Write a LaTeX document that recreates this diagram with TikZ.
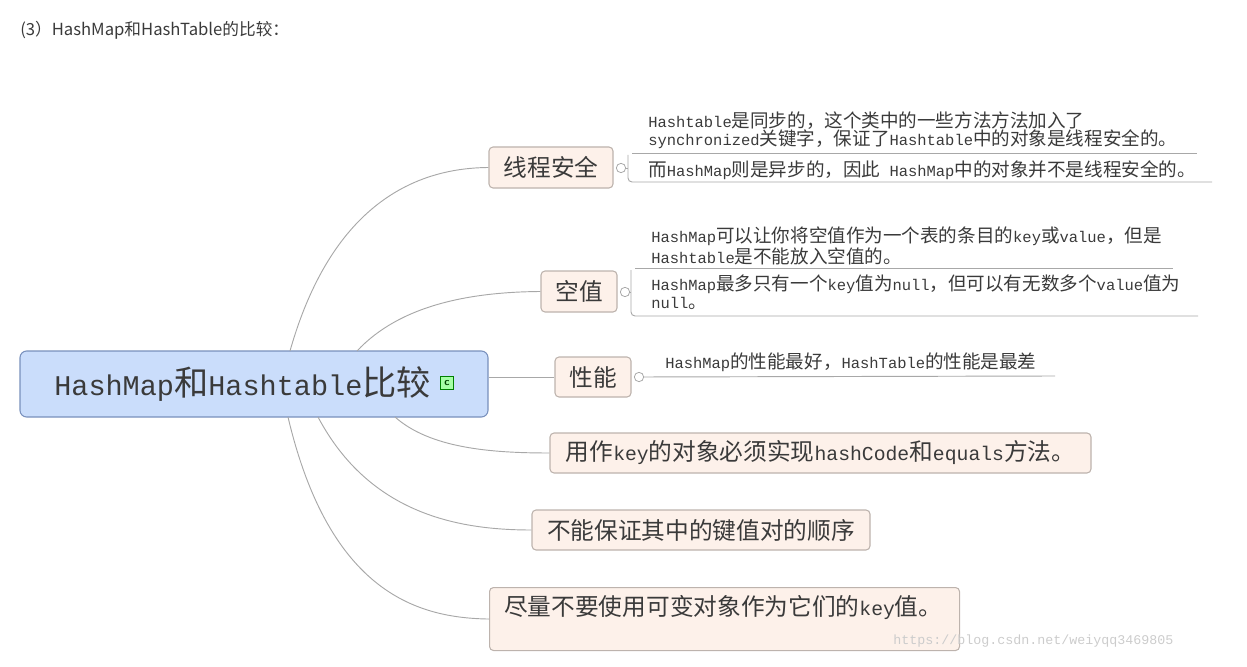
\documentclass[tikz,border=0pt]{standalone}
\usepackage{fontspec}
\setmainfont{Liberation Mono}
\newfontfamily\zhf{Noto Sans CJK SC}[Scale=1.2]
\newfontfamily\titlef{Noto Sans CJK SC}
\newcommand{\zz}[1]{{\zhf #1}}
\definecolor{rootfill}{HTML}{CADDFB}
\definecolor{rootdraw}{HTML}{7890BC}
\definecolor{brfill}{HTML}{FDF1EA}
\definecolor{brdraw}{HTML}{BDB3AD}
\definecolor{lnk}{HTML}{A8A8A8}
\definecolor{txt}{HTML}{3A3A3A}
\begin{document}
\begin{tikzpicture}[x=0.75pt,y=-0.75pt,
  br/.style={draw=brdraw,fill=brfill,rounded corners=3pt,line width=0.8pt,inner sep=0pt,text=txt,font=\fontsize{14.8pt}{18pt}\selectfont},
  leaf/.style={inner sep=0pt,anchor=north west,align=left,text=txt,font=\fontsize{11.6pt}{13.5pt}\selectfont},
  lk/.style={draw=lnk,line width=0.7pt},
  knob/.style={circle,draw=lnk,fill=white,minimum size=7pt,inner sep=0pt,line width=0.6pt}]
\useasboundingbox (0,0) rectangle (1247,667);
\node[anchor=west,inner sep=0pt,font=\titlef\fontsize{12.5pt}{14pt}\selectfont,text=txt] (title) at (20,30) {(3）HashMap和HashTable的比较：};
% root
\node[draw=rootdraw,fill=rootfill,rounded corners=5pt,line width=0.8pt,minimum width=468*0.75pt,minimum height=66*0.75pt,inner sep=0pt] (root) at (254,384) {};
\node[anchor=west,inner sep=0pt,text=txt,font=\fontsize{21.4pt}{24pt}\selectfont] (rt) at (54,384) {HashMap\zz{和}Hashtable\zz{比较}};
\node[draw=green!50!black,fill=green!35,minimum size=10pt,inner sep=0pt,font=\sffamily\bfseries\fontsize{8pt}{8pt}\selectfont,text=green!25!black] (ic) at (447,383) {c};
% branches
\node[br,minimum width=124*0.75pt,minimum height=41*0.75pt] (b1) at (551,167.5) {\zz{线程安全}};
\node[br,minimum width=76*0.75pt,minimum height=41*0.75pt] (b2) at (579,291.5) {\zz{空值}};
\node[br,minimum width=76*0.75pt,minimum height=40*0.75pt] (b3) at (593,377) {\zz{性能}};
\node[br,minimum width=541*0.75pt,minimum height=40*0.75pt] (b4) at (820.5,453) {\zz{用作}key\zz{的对象必须实现}hashCode\zz{和}equals\zz{方法。}};
\node[br,minimum width=338*0.75pt,minimum height=40*0.75pt] (b5) at (701,530) {\zz{不能保证其中的键值对的顺序}};
\node[br,minimum width=470*0.75pt,minimum height=63*0.75pt,anchor=north west] (b6) at (489,587) {};
\node[anchor=west,inner sep=0pt,text=txt,font=\fontsize{14.8pt}{18pt}\selectfont] (b6t) at (504,607) {\zz{尽量不要使用可变对象作为它们的}key\zz{值。}};
% connectors from root
\coordinate (r1) at (290,351);
\coordinate (r2) at (357,351);
\coordinate (r4) at (395,417);
\coordinate (r5) at (318,417);
\coordinate (r6) at (288,417);
\draw[lk] (r1) .. controls (330,210) and (410,168) .. (b1.west);
\draw[lk] (r2) .. controls (400,305) and (470,292) .. (b2.west);
\draw[lk] (root.east |- b3.west) -- (b3.west);
\draw[lk] (r4) .. controls (430,448) and (490,453) .. (b4.west);
\draw[lk] (r5) .. controls (370,515) and (460,530) .. (b5.west);
\draw[lk] (r6) .. controls (330,595) and (420,618) .. (b6.west);
% knobs and leaves
\node[knob] (k1) at (621,168) {};
\node[knob] (k2) at (625,292) {};
\node[knob] (k3) at (639,377) {};
\coordinate (l1a) at (632,153); \coordinate (l1b) at (1197,153);
\coordinate (l1c) at (628,155); \coordinate (l1d) at (1212,182);
\draw[lk] (l1a) -- (l1b);
\draw[lk,rounded corners=3pt] (l1c) -- (l1c |- l1d) -- (l1d);
\draw[lk] (k1) -- (l1c |- k1);
\coordinate (l2a) at (635,268); \coordinate (l2b) at (1173,268);
\coordinate (l2c) at (631,270); \coordinate (l2d) at (1198,316);
\draw[lk] (l2a) -- (l2b);
\draw[lk,rounded corners=3pt] (l2c) -- (l2c |- l2d) -- (l2d);
\draw[lk] (k2) -- (l2c |- k2);
\coordinate (l3b) at (1055,376);
\draw[lk] (k3) -- (l3b);
\node[leaf] (t1) at (648,112) {Hashtable\zz{是同步的，这个类中的一些方法方法加入了}\\synchronized\zz{关键字，保证了}Hashtable\zz{中的对象是线程安全的。}};
\node[leaf] (t2) at (648,160) {\zz{而}HashMap\zz{则是异步的，因此} HashMap\zz{中的对象并不是线程安全的。}};
\node[leaf] (t3) at (651,227) {HashMap\zz{可以让你将空值作为一个表的条目的}key\zz{或}value\zz{，但是}\\Hashtable\zz{是不能放入空值的。}};
\node[leaf] (t4) at (651,275) {HashMap\zz{最多只有一个}key\zz{值为}null\zz{，但可以有无数多个}value\zz{值为}\\null\zz{。}};
\node[leaf] (t5) at (665,353) {HashMap\zz{的性能最好，}HashTable\zz{的性能是最差}};
\node[anchor=west,inner sep=0pt,text=black!20,font=\fontsize{10pt}{12pt}\selectfont] (wm) at (893,641) {https://blog.csdn.net/weiyqq3469805};
\end{tikzpicture}
\end{document}
